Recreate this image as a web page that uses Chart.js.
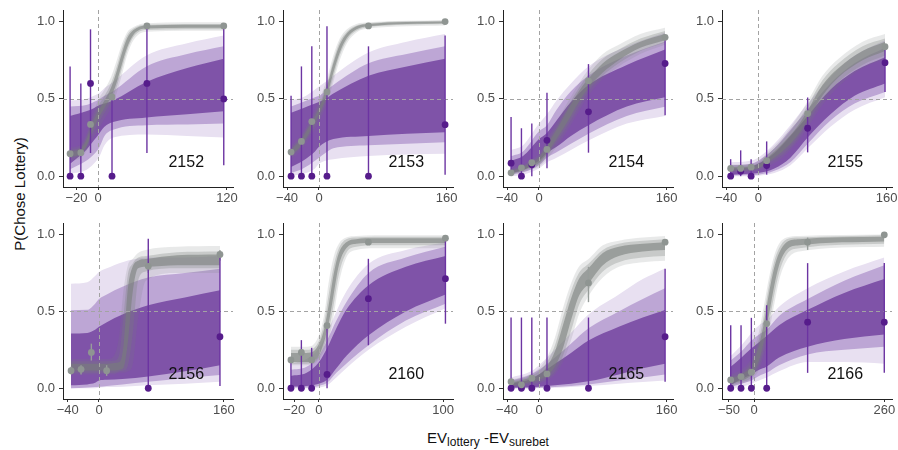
<!DOCTYPE html>
<html>
<head>
<meta charset="UTF-8">
<title>P(Chose Lottery) by subject</title>
<script src="https://cdn.jsdelivr.net/npm/chart.js"></script>
<style>
  body { margin: 0; background: #fff; font-family: "Liberation Sans", Arial, sans-serif; }
  #wrap { position: relative; width: 898px; height: 450px; overflow: hidden; }
  #wrap canvas { position: absolute; }
  .ytitle {
    position: absolute; left: 19px; top: 194px;
    transform: translate(-50%, -50%) rotate(-90deg);
    font-size: 15px; white-space: nowrap; color: #111;
  }
  .xtitle {
    position: absolute; left: 488px; top: 437px;
    transform: translate(-50%, -50%);
    font-size: 15px; white-space: nowrap; color: #111;
  }
  .xtitle sub { font-size: 12px; vertical-align: -3px; line-height: 0; }
</style>
</head>
<body>
<div id="wrap">
  <div class="ytitle">P(Chose Lottery)</div>
  <div class="xtitle">EV<sub>lottery</sub> -EV<sub>surebet</sub></div>
</div>
<script>
const panelIds = ['2152', '2153', '2154', '2155', '2156', '2160', '2165', '2166'];
const xRanges = [
  [-32.6, 125.6], [-45.1, 167.9], [-45.1, 167.9], [-45.3, 166.7],
  [-46.1, 171.6], [-29, 108], [-45.1, 167.9], [-63.9, 275.4]
];
const xTickValues = [
  [-20, 0, 120], [-40, 0, 160], [-40, 0, 160], [-40, 0, 160],
  [-40, 0, 160], [-20, 0, 100], [-40, 0, 160], [-50, 0, 260]
];
const yTickValues = [0, 0.5, 1];
const yRange = [-0.07, 1.075];

// observed choices: x, purple mean, purple low, purple high, gray mean, [gray low, gray high]
const points2152 = [
  [-26, 0, 0, 0.71, 0.145],
  [-16, 0, 0, 0.60, 0.152],
  [-7, 0.60, 0.15, 0.95, 0.335],
  [13, 0, 0, 0.51, 0.513],
  [45.5, 0.60, 0.15, 0.97, 0.972],
  [117, 0.50, 0.07, 0.97, 0.972]
];
const points2153 = [
  [-35, 0, 0, 0.52, 0.156],
  [-22, 0, 0, 0.71, 0.225],
  [-9, 0, 0, 0.84, 0.353],
  [10, 0, 0, 0.97, 0.545],
  [62, 0, 0, 0.84, 0.972],
  [158, 0.333, 0.01, 0.91, 1.0]
];
const points2154 = [
  [-35, 0.084, 0.005, 0.383, 0.022],
  [-22, 0, 0, 0.31, 0.054],
  [-9, 0.074, 0, 0.34, 0.087],
  [10, 0.232, 0.052, 0.539, 0.173],
  [62, 0.416, 0.152, 0.725, 0.617],
  [158, 0.729, 0.394, 0.90, 0.898]
];
const points2155 = [
  [-34.5, 0, 0, 0.11, 0.05],
  [-22, 0.032, 0, 0.167, 0.05],
  [-9, 0, 0, 0.11, 0.058],
  [10.4, 0.069, 0.01, 0.225, 0.10],
  [61.5, 0.31, 0.154, 0.509, 0.405],
  [158, 0.734, 0.545, 0.838, 0.838]
];
const points2156 = [
  [-35.8, null, null, null, 0.114, 0.09, 0.14],
  [-23, null, null, null, 0.123, 0.09, 0.15],
  [-9.8, null, null, null, 0.233, 0.18, 0.29],
  [9.8, null, null, null, 0.114, 0.08, 0.15],
  [63.1, 0, 0, 0.972, 0.793, 0.75, 0.83],
  [154.9, 0.335, 0.015, 0.886, 0.87, 0.83, 0.90]
];
const points2160 = [
  [-22.6, 0, 0, 0.184, 0.184],
  [-14.2, 0, 0, 0.313, 0.233],
  [-5.9, 0, 0, 0.263, 0.184],
  [6.5, 0.09, 0, 0.42, 0.408],
  [39.8, 0.583, 0.28, 0.842, 0.95],
  [101.9, 0.713, 0.42, 0.978, 0.976]
];
const points2165 = [
  [-35, 0, 0, 0.46, 0.043],
  [-22, 0, 0, 0.46, 0.022],
  [-9, 0, 0, 0.46, 0.065],
  [10, 0, 0, 0.46, 0.093],
  [62, 0, 0, 0.46, 0.685, 0.56, 0.79],
  [158, 0.335, 0.043, 0.778, 0.95]
];
const points2166 = [
  [-46.5, 0, 0, 0.41, 0.054],
  [-25.9, 0, 0, 0.41, 0.076],
  [-5.3, 0, 0, 0.458, 0.104],
  [25.3, 0, 0, 0.54, 0.421],
  [107, 0.43, 0.10, 0.814, 0.95, 0.90, 0.98],
  [260, 0.43, 0.10, 0.814, 0.998]
];

// ribbon rows: x, outer lo, mid lo, inner lo, inner hi, mid hi, outer hi
const purple2152 = [
  [-26, 0.015, 0.045, 0.08, 0.39, 0.45, 0.49],
  [-11, 0.04, 0.10, 0.17, 0.42, 0.46, 0.50],
  [-4, 0.08, 0.14, 0.23, 0.44, 0.48, 0.52],
  [1.5, 0.13, 0.19, 0.28, 0.46, 0.50, 0.54],
  [6, 0.20, 0.26, 0.32, 0.47, 0.52, 0.57],
  [14, 0.25, 0.30, 0.35, 0.49, 0.55, 0.61],
  [45, 0.27, 0.33, 0.38, 0.61, 0.71, 0.78],
  [83, 0.26, 0.335, 0.40, 0.70, 0.79, 0.86],
  [117, 0.25, 0.34, 0.42, 0.76, 0.84, 0.91]
];
const gray2152 = [
  [-26, 0.10, 0.115, 0.125, 0.16, 0.17, 0.185],
  [-16, 0.12, 0.135, 0.145, 0.18, 0.19, 0.205],
  [-11, 0.16, 0.18, 0.19, 0.23, 0.25, 0.27],
  [-6, 0.23, 0.26, 0.28, 0.33, 0.35, 0.38],
  [0, 0.30, 0.34, 0.37, 0.42, 0.45, 0.49],
  [6, 0.37, 0.41, 0.44, 0.49, 0.52, 0.56],
  [12, 0.44, 0.48, 0.51, 0.57, 0.60, 0.64],
  [17, 0.53, 0.57, 0.60, 0.67, 0.70, 0.74],
  [22, 0.65, 0.69, 0.72, 0.79, 0.82, 0.85],
  [27, 0.78, 0.81, 0.83, 0.89, 0.91, 0.93],
  [33, 0.88, 0.90, 0.915, 0.945, 0.955, 0.965],
  [45, 0.935, 0.945, 0.955, 0.975, 0.98, 0.99],
  [117, 0.94, 0.95, 0.96, 0.98, 0.985, 0.995]
];
const purple2153 = [
  [-35, 0.00, 0.02, 0.06, 0.41, 0.45, 0.49],
  [-20, 0.015, 0.05, 0.10, 0.44, 0.48, 0.51],
  [-5, 0.05, 0.10, 0.16, 0.47, 0.51, 0.56],
  [0, 0.08, 0.12, 0.19, 0.48, 0.52, 0.58],
  [8, 0.10, 0.15, 0.22, 0.50, 0.55, 0.61],
  [18, 0.11, 0.18, 0.24, 0.535, 0.59, 0.65],
  [62, 0.13, 0.20, 0.26, 0.65, 0.73, 0.80],
  [110, 0.14, 0.21, 0.275, 0.71, 0.79, 0.87],
  [158, 0.145, 0.22, 0.285, 0.76, 0.84, 0.92]
];
const gray2153 = [
  [-35, 0.11, 0.125, 0.135, 0.17, 0.18, 0.195],
  [-22, 0.17, 0.19, 0.20, 0.24, 0.255, 0.27],
  [-9, 0.27, 0.29, 0.31, 0.35, 0.37, 0.39],
  [0, 0.35, 0.38, 0.40, 0.44, 0.46, 0.49],
  [10, 0.47, 0.50, 0.52, 0.58, 0.60, 0.63],
  [18, 0.61, 0.64, 0.67, 0.73, 0.75, 0.78],
  [26, 0.75, 0.78, 0.80, 0.85, 0.87, 0.89],
  [35, 0.86, 0.88, 0.895, 0.925, 0.935, 0.95],
  [47, 0.93, 0.94, 0.95, 0.97, 0.975, 0.985],
  [62, 0.955, 0.965, 0.97, 0.985, 0.99, 0.995],
  [158, 0.975, 0.985, 0.99, 1.0, 1.005, 1.01]
];
const purple2154 = [
  [-35, 0.00, 0.01, 0.02, 0.10, 0.13, 0.17],
  [-20, 0.01, 0.025, 0.04, 0.13, 0.16, 0.20],
  [0, 0.05, 0.07, 0.10, 0.24, 0.29, 0.34],
  [10, 0.09, 0.12, 0.15, 0.28, 0.33, 0.40],
  [22, 0.12, 0.155, 0.19, 0.36, 0.43, 0.49],
  [40, 0.17, 0.21, 0.26, 0.48, 0.55, 0.60],
  [62, 0.23, 0.275, 0.33, 0.59, 0.65, 0.71],
  [110, 0.34, 0.39, 0.45, 0.72, 0.78, 0.84],
  [158, 0.39, 0.45, 0.51, 0.82, 0.87, 0.93]
];
const gray2154 = [
  [-35, 0.005, 0.012, 0.018, 0.035, 0.042, 0.05],
  [-22, 0.02, 0.03, 0.035, 0.055, 0.062, 0.07],
  [-9, 0.045, 0.055, 0.062, 0.09, 0.10, 0.11],
  [0, 0.06, 0.075, 0.085, 0.12, 0.13, 0.145],
  [10, 0.11, 0.13, 0.145, 0.20, 0.22, 0.24],
  [22, 0.19, 0.22, 0.24, 0.30, 0.32, 0.35],
  [35, 0.29, 0.32, 0.345, 0.42, 0.44, 0.47],
  [50, 0.42, 0.45, 0.48, 0.55, 0.57, 0.60],
  [62, 0.52, 0.55, 0.57, 0.63, 0.66, 0.69],
  [80, 0.63, 0.65, 0.67, 0.73, 0.76, 0.79],
  [100, 0.71, 0.73, 0.75, 0.80, 0.82, 0.85],
  [127, 0.79, 0.81, 0.83, 0.87, 0.89, 0.92],
  [158, 0.85, 0.865, 0.88, 0.92, 0.94, 0.96]
];
const purple2155 = [
  [-34.5, 0.00, 0.005, 0.01, 0.05, 0.07, 0.09],
  [-10, 0.00, 0.008, 0.015, 0.06, 0.08, 0.10],
  [0, 0.003, 0.01, 0.02, 0.08, 0.10, 0.12],
  [20, 0.02, 0.035, 0.05, 0.15, 0.18, 0.21],
  [40, 0.07, 0.09, 0.12, 0.26, 0.30, 0.33],
  [61.5, 0.18, 0.21, 0.25, 0.39, 0.43, 0.47],
  [90, 0.32, 0.36, 0.40, 0.56, 0.60, 0.64],
  [120, 0.43, 0.47, 0.52, 0.68, 0.73, 0.78],
  [158, 0.51, 0.545, 0.60, 0.77, 0.83, 0.88]
];
const gray2155 = [
  [-34.5, 0.025, 0.032, 0.04, 0.06, 0.068, 0.075],
  [-9, 0.03, 0.038, 0.045, 0.065, 0.072, 0.08],
  [0, 0.035, 0.045, 0.05, 0.075, 0.085, 0.095],
  [10, 0.06, 0.075, 0.085, 0.115, 0.13, 0.145],
  [30, 0.12, 0.14, 0.16, 0.21, 0.23, 0.25],
  [50, 0.23, 0.25, 0.27, 0.33, 0.36, 0.39],
  [62, 0.32, 0.35, 0.37, 0.43, 0.46, 0.49],
  [80, 0.46, 0.49, 0.52, 0.59, 0.62, 0.65],
  [100, 0.58, 0.61, 0.64, 0.70, 0.73, 0.76],
  [130, 0.70, 0.72, 0.75, 0.81, 0.84, 0.87],
  [158, 0.76, 0.78, 0.81, 0.87, 0.89, 0.92]
];
const purple2156 = [
  [-36, 0.00, 0.00, 0.02, 0.356, 0.508, 0.68],
  [-15, 0.00, 0.005, 0.025, 0.36, 0.51, 0.69],
  [-5, 0.00, 0.008, 0.035, 0.38, 0.55, 0.73],
  [0, 0.005, 0.01, 0.05, 0.40, 0.58, 0.756],
  [10, 0.008, 0.015, 0.055, 0.43, 0.61, 0.78],
  [30, 0.01, 0.025, 0.06, 0.48, 0.66, 0.82],
  [63, 0.02, 0.043, 0.076, 0.54, 0.72, 0.85],
  [110, 0.03, 0.065, 0.11, 0.59, 0.75, 0.85],
  [155, 0.043, 0.086, 0.15, 0.637, 0.778, 0.86]
];
const gray2156 = [
  [-36, 0.09, 0.10, 0.115, 0.16, 0.175, 0.19],
  [10, 0.09, 0.10, 0.115, 0.16, 0.175, 0.19],
  [20, 0.09, 0.10, 0.115, 0.165, 0.18, 0.22],
  [26, 0.10, 0.11, 0.12, 0.17, 0.22, 0.35],
  [31, 0.10, 0.115, 0.13, 0.26, 0.45, 0.62],
  [37, 0.11, 0.15, 0.30, 0.65, 0.74, 0.80],
  [43, 0.15, 0.35, 0.62, 0.79, 0.81, 0.84],
  [50, 0.45, 0.70, 0.78, 0.83, 0.85, 0.88],
  [60, 0.70, 0.76, 0.79, 0.84, 0.86, 0.90],
  [100, 0.75, 0.78, 0.80, 0.865, 0.885, 0.92],
  [155, 0.75, 0.78, 0.80, 0.87, 0.89, 0.925]
];
const purple2160 = [
  [-22.6, 0.00, 0.005, 0.01, 0.08, 0.12, 0.16],
  [-10, 0.00, 0.005, 0.015, 0.10, 0.14, 0.19],
  [0, 0.005, 0.015, 0.03, 0.17, 0.21, 0.26],
  [6.5, 0.02, 0.035, 0.055, 0.26, 0.31, 0.36],
  [14, 0.07, 0.10, 0.13, 0.39, 0.44, 0.50],
  [22, 0.13, 0.16, 0.21, 0.51, 0.56, 0.63],
  [40, 0.25, 0.28, 0.345, 0.67, 0.75, 0.81],
  [70, 0.40, 0.44, 0.50, 0.79, 0.85, 0.90],
  [102, 0.52, 0.55, 0.61, 0.86, 0.92, 0.95]
];
const gray2160 = [
  [-22.6, 0.15, 0.16, 0.17, 0.23, 0.25, 0.27],
  [-10, 0.15, 0.16, 0.17, 0.23, 0.25, 0.27],
  [-2, 0.17, 0.18, 0.19, 0.26, 0.28, 0.31],
  [4, 0.24, 0.27, 0.30, 0.38, 0.42, 0.47],
  [8, 0.32, 0.38, 0.43, 0.55, 0.62, 0.70],
  [12, 0.48, 0.55, 0.62, 0.75, 0.80, 0.86],
  [16, 0.68, 0.74, 0.80, 0.88, 0.91, 0.94],
  [22, 0.85, 0.88, 0.91, 0.95, 0.97, 0.98],
  [30, 0.90, 0.92, 0.94, 0.97, 0.98, 0.99],
  [45, 0.91, 0.93, 0.945, 0.975, 0.985, 0.995],
  [102, 0.91, 0.93, 0.945, 0.975, 0.985, 0.995]
];
const purple2165 = [
  [-35, 0.00, 0.00, 0.005, 0.03, 0.05, 0.07],
  [-10, 0.00, 0.00, 0.007, 0.06, 0.09, 0.11],
  [0, 0.00, 0.003, 0.01, 0.09, 0.12, 0.15],
  [20, 0.003, 0.008, 0.02, 0.16, 0.20, 0.25],
  [40, 0.008, 0.015, 0.03, 0.23, 0.29, 0.36],
  [62, 0.015, 0.025, 0.045, 0.31, 0.39, 0.48],
  [100, 0.03, 0.05, 0.09, 0.40, 0.50, 0.61],
  [130, 0.04, 0.07, 0.13, 0.46, 0.58, 0.71],
  [158, 0.05, 0.09, 0.16, 0.51, 0.65, 0.78]
];
const gray2165 = [
  [-35, 0.00, 0.01, 0.015, 0.035, 0.045, 0.055],
  [-10, 0.02, 0.03, 0.04, 0.07, 0.08, 0.095],
  [0, 0.03, 0.04, 0.055, 0.09, 0.11, 0.13],
  [10, 0.05, 0.065, 0.08, 0.14, 0.17, 0.20],
  [20, 0.09, 0.11, 0.14, 0.24, 0.28, 0.33],
  [30, 0.17, 0.21, 0.26, 0.41, 0.46, 0.52],
  [40, 0.31, 0.37, 0.44, 0.58, 0.63, 0.68],
  [50, 0.48, 0.54, 0.60, 0.71, 0.75, 0.79],
  [62, 0.60, 0.64, 0.68, 0.78, 0.81, 0.84],
  [80, 0.72, 0.76, 0.80, 0.88, 0.90, 0.93],
  [100, 0.79, 0.82, 0.86, 0.92, 0.94, 0.96],
  [130, 0.82, 0.85, 0.89, 0.94, 0.96, 0.98],
  [158, 0.83, 0.86, 0.90, 0.95, 0.97, 0.99]
];
const purple2166 = [
  [-46.5, 0.00, 0.01, 0.02, 0.14, 0.18, 0.21],
  [-25, 0.01, 0.03, 0.06, 0.20, 0.24, 0.28],
  [-5, 0.03, 0.05, 0.09, 0.26, 0.31, 0.36],
  [10, 0.05, 0.08, 0.12, 0.30, 0.35, 0.41],
  [25, 0.07, 0.10, 0.14, 0.34, 0.38, 0.44],
  [50, 0.11, 0.15, 0.20, 0.41, 0.47, 0.53],
  [107, 0.17, 0.22, 0.27, 0.51, 0.58, 0.65],
  [180, 0.17, 0.25, 0.32, 0.62, 0.70, 0.76],
  [260, 0.16, 0.27, 0.35, 0.71, 0.80, 0.85]
];
const gray2166 = [
  [-46.5, 0.01, 0.02, 0.03, 0.065, 0.075, 0.09],
  [-25, 0.03, 0.04, 0.05, 0.09, 0.10, 0.12],
  [-5, 0.06, 0.07, 0.09, 0.15, 0.17, 0.20],
  [10, 0.12, 0.15, 0.18, 0.28, 0.32, 0.37],
  [20, 0.22, 0.26, 0.31, 0.43, 0.48, 0.54],
  [30, 0.36, 0.42, 0.48, 0.62, 0.67, 0.72],
  [40, 0.54, 0.60, 0.66, 0.78, 0.82, 0.86],
  [50, 0.70, 0.75, 0.80, 0.88, 0.91, 0.94],
  [65, 0.83, 0.87, 0.90, 0.95, 0.97, 0.98],
  [90, 0.89, 0.91, 0.93, 0.97, 0.98, 0.99],
  [260, 0.92, 0.94, 0.955, 0.985, 0.995, 1.0]
];

const panelPoints = [points2152, points2153, points2154, points2155, points2156, points2160, points2165, points2166];
const panelPurple = [purple2152, purple2153, purple2154, purple2155, purple2156, purple2160, purple2165, purple2166];
const panelGray = [gray2152, gray2153, gray2154, gray2155, gray2156, gray2160, gray2165, gray2166];

// panel geometry (plot area in page pixels)
const colLeft = [63, 283, 503, 722];
const rowTop = [10, 223];
const rowBottom = [187, 399];
const areaWidth = 170;
const yAxisWidth = 50, xAxisHeight = 26, padTop = 16, padRight = 12;

const FONT = '"Liberation Sans", Arial, sans-serif';
const purpleFill = ['#E8E0F1', '#BDA6D5', '#7F53A8'];
const grayFill = ['rgba(120,126,123,0.17)', 'rgba(120,126,123,0.29)', 'rgba(120,126,123,0.58)'];
const purplePoint = '#561C8B';
const purpleBar = '#6C34A2';
const grayPoint = '#8F9592';
const grayBar = '#979D9A';

function ribbonSets(rows, fills, orderTop, tag) {
  const sets = [];
  for (let k = 1; k <= 3; k++) {
    sets.push({
      label: tag + ' lo ' + k,
      data: rows.map(r => ({ x: r[0], y: r[k] })),
      borderColor: 'rgba(0,0,0,0)', borderWidth: 0, pointRadius: 0,
      fill: false, cubicInterpolationMode: 'monotone',
      order: orderTop - k * 2
    });
    sets.push({
      label: tag + ' hi ' + k,
      data: rows.map(r => ({ x: r[0], y: r[7 - k] })),
      borderColor: 'rgba(0,0,0,0)', borderWidth: 0, pointRadius: 0,
      fill: '-1', backgroundColor: fills[k - 1], cubicInterpolationMode: 'monotone',
      order: orderTop - k * 2
    });
  }
  return sets;
}

const overlay = {
  id: 'overlay',
  beforeDatasetDraw(chart, args) {
    if (chart.data.datasets[args.index].label !== 'purple points') return;
    const { ctx, chartArea: a, scales: { x, y } } = chart;
    ctx.save();
    // reference lines at chance and at equal expected value
    ctx.strokeStyle = '#A3A3A3';
    ctx.lineWidth = 1;
    ctx.setLineDash([4, 3]);
    const yh = Math.round(y.getPixelForValue(0.5)) + 0.5;
    const xv = Math.round(x.getPixelForValue(0)) + 0.5;
    ctx.beginPath();
    ctx.moveTo(a.left, yh); ctx.lineTo(a.right, yh);
    ctx.moveTo(xv, a.top); ctx.lineTo(xv, a.bottom);
    ctx.stroke();
    ctx.setLineDash([]);
    // error bars
    const rows = chart.options.plugins.overlay.rows;
    ctx.lineWidth = 1.4;
    ctx.strokeStyle = grayBar;
    rows.forEach(r => {
      if (r[5] == null) return;
      const px = x.getPixelForValue(r[0]);
      ctx.beginPath();
      ctx.moveTo(px, y.getPixelForValue(r[5]));
      ctx.lineTo(px, y.getPixelForValue(r[6]));
      ctx.stroke();
    });
    ctx.strokeStyle = purpleBar;
    rows.forEach(r => {
      if (r[2] == null) return;
      const px = x.getPixelForValue(r[0]);
      ctx.beginPath();
      ctx.moveTo(px, y.getPixelForValue(r[2]));
      ctx.lineTo(px, y.getPixelForValue(r[3]));
      ctx.stroke();
    });
    ctx.restore();
  },
  afterDatasetsDraw(chart) {
    const { ctx, chartArea: a, scales: { y } } = chart;
    ctx.save();
    ctx.fillStyle = '#111';
    ctx.font = '16px ' + FONT;
    ctx.textAlign = 'center';
    ctx.textBaseline = 'middle';
    ctx.fillText(chart.options.plugins.overlay.title, a.left + a.width * 0.725, y.getPixelForValue(0.09));
    ctx.restore();
  }
};

const wrap = document.getElementById('wrap');

panelIds.forEach((id, i) => {
  const col = i % 4, row = Math.floor(i / 4);
  const plotH = rowBottom[row] - rowTop[row];
  const canvas = document.createElement('canvas');
  canvas.width = yAxisWidth + areaWidth + padRight;
  canvas.height = padTop + plotH + xAxisHeight;
  canvas.style.left = (colLeft[col] - yAxisWidth) + 'px';
  canvas.style.top = (rowTop[row] - padTop) + 'px';
  wrap.appendChild(canvas);

  const pts = panelPoints[i];
  const datasets = [
    ...ribbonSets(panelPurple[i], purpleFill, 100, 'purple'),
    ...ribbonSets(panelGray[i], grayFill, 90, 'gray'),
    {
      label: 'purple points',
      data: pts.filter(r => r[1] != null).map(r => ({ x: r[0], y: r[1] })),
      showLine: false, pointRadius: 3.4, pointBorderWidth: 0,
      pointBackgroundColor: purplePoint, borderColor: purplePoint, order: 2
    },
    {
      label: 'gray points',
      data: pts.map(r => ({ x: r[0], y: r[4] })),
      showLine: false, pointRadius: 3.4, pointBorderWidth: 0,
      pointBackgroundColor: grayPoint, borderColor: grayPoint, order: 1
    }
  ];

  const tickFont = { family: FONT, size: 13 };
  new Chart(canvas, {
    type: 'line',
    data: { datasets },
    options: {
      responsive: false,
      animation: false,
      events: [],
      layout: { padding: { top: padTop, right: padRight, left: 0, bottom: 0 } },
      plugins: {
        legend: { display: false },
        tooltip: { enabled: false },
        overlay: { rows: pts, title: id }
      },
      scales: {
        x: {
          type: 'linear',
          min: xRanges[i][0], max: xRanges[i][1],
          afterBuildTicks: s => { s.ticks = xTickValues[i].map(v => ({ value: v })); },
          afterFit: s => { s.height = xAxisHeight; },
          ticks: {
            color: '#4D4D4D', font: tickFont, padding: 1, maxRotation: 0,
            callback: v => (v < 0 ? '\u2212' + Math.abs(v) : String(v))
          },
          grid: { drawOnChartArea: false, drawTicks: true, tickLength: 3, color: '#333', lineWidth: 1 },
          border: { display: true, color: '#222', width: 1 }
        },
        y: {
          type: 'linear',
          min: yRange[0], max: yRange[1],
          afterBuildTicks: s => { s.ticks = yTickValues.map(v => ({ value: v })); },
          afterFit: s => { s.width = yAxisWidth; },
          ticks: { color: '#4D4D4D', font: tickFont, padding: 4, callback: v => v.toFixed(1) },
          grid: { drawOnChartArea: false, drawTicks: true, tickLength: 4, color: '#333', lineWidth: 1 },
          border: { display: true, color: '#222', width: 1 }
        }
      }
    },
    plugins: [overlay]
  });
});
</script>
</body>
</html>
